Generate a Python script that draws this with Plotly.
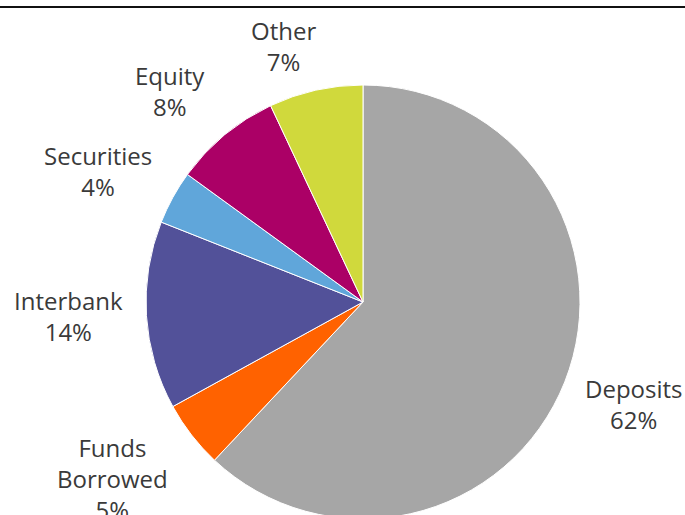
import plotly.graph_objects as go

labels = ["Deposits", "Funds Borrowed", "Interbank", "Securities", "Equity", "Other"]
values = [62, 5, 14, 4, 8, 7]
label_text = ["Deposits<br>62%", "Funds<br>Borrowed<br>5%", "Interbank<br>14%",
              "Securities<br>4%", "Equity<br>8%", "Other<br>7%"]
colors = ["#A6A6A6", "#FF6200", "#525199", "#60A6DA", "#AB0066", "#D0D93C"]

# layout (pixel positions of label centres, from top-left)
W, H = 685, 540
label_pos = [(634, 404), (112, 478), (68, 316), (98, 171), (170, 91), (283, 46)]
cx, cy, r = 363, 302, 217

fig = go.Figure(go.Pie(
    labels=labels, values=values, sort=False, direction="clockwise", rotation=0,
    marker=dict(colors=colors, line=dict(color="white", width=1)),
    textinfo="none", hoverinfo="label+percent", showlegend=False,
    domain=dict(x=[(cx - r) / W, (cx + r) / W], y=[(H - cy - r) / H, (H - cy + r) / H]),
))

for t, (px, py) in zip(label_text, label_pos):
    fig.add_annotation(x=px / W, y=(H - py) / H, xref="paper", yref="paper",
                       text=t, showarrow=False, xanchor="center", yanchor="middle",
                       font=dict(family="Open Sans", size=24, color="#3a3a3a"))

fig.add_shape(type="line", xref="paper", yref="paper", x0=0, x1=1,
              y0=(H - 7) / H, y1=(H - 7) / H, line=dict(color="#111111", width=2))

fig.update_layout(width=W, height=H, margin=dict(l=0, r=0, t=0, b=0),
                  paper_bgcolor="white", plot_bgcolor="white")

fig.write_html("out.html",
               post_script="document.documentElement.style.overflow='hidden';document.body.style.overflow='hidden';document.body.style.margin='0';")
